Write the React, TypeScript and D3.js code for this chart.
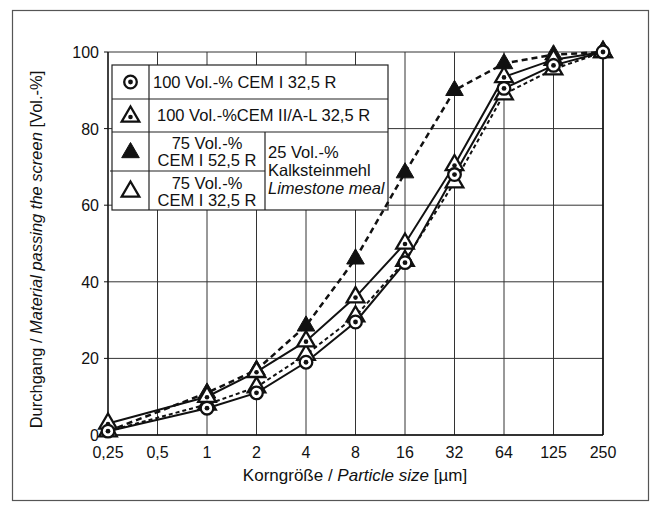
import React from "react";
import * as d3 from "d3";

// Sieve sizes along the x axis (equally spaced, labelled in µm)
const sizeLabels = ["0,25", "0,5", "1", "2", "4", "8", "16", "32", "64", "125", "250"];
// Sizes at which measurements were taken
const sampleSizes = ["0,25", "1", "2", "4", "8", "16", "32", "64", "125", "250"];

// Cumulative passing [Vol.-%] for each binder
const cemI325 = [1, 7, 11, 19, 29.5, 45, 68, 90.5, 96.5, 100];
const cemII = [3, 10, 16.5, 24.5, 36, 50, 70.5, 93.5, 98, 100];
const cemI525Lime = [1, 11, 17, 28.5, 46, 68.5, 90, 97, 99.3, 100];
const cemI325Lime = [1, 8, 12.5, 21, 31, 45.5, 66, 89, 95.5, 100];

const yTicks = [0, 20, 40, 60, 80, 100];

const W = 654;
const H = 512;
const plot = { left: 108, right: 603, top: 52, bottom: 435 };
const FONT = "'Liberation Sans', Arial, Helvetica, sans-serif";

type MarkerKind = "circleDot" | "triDot" | "triFilled" | "triOpen";

const series: { name: string; values: number[]; marker: MarkerKind; dash: string | null; width: number }[] = [
  { name: "100 Vol.-% CEM I 32,5 R", values: cemI325, marker: "circleDot", dash: null, width: 2 },
  { name: "100 Vol.-% CEM II/A-L 32,5 R", values: cemII, marker: "triDot", dash: null, width: 2 },
  { name: "75 Vol.-% CEM I 52,5 R", values: cemI525Lime, marker: "triFilled", dash: "6,4", width: 2.5 },
  { name: "75 Vol.-% CEM I 32,5 R", values: cemI325Lime, marker: "triOpen", dash: "4,3", width: 2 },
];

const triPath = "M0,-10L8.8,5.2L-8.8,5.2Z";

function Marker({ kind, x, y }: { kind: MarkerKind; x: number; y: number }) {
  const t = `translate(${x},${y})`;
  if (kind === "circleDot") {
    return (
      <g transform={t}>
        <circle r={6.3} fill="#fff" stroke="#111" strokeWidth={2.3} />
        <circle r={2.4} fill="#111" />
      </g>
    );
  }
  if (kind === "triDot") {
    return (
      <g transform={t}>
        <path d={triPath} fill="#fff" stroke="#111" strokeWidth={2.3} />
        <circle cy={0.5} r={2.3} fill="#111" />
      </g>
    );
  }
  if (kind === "triFilled") {
    return (
      <g transform={t}>
        <path d={triPath} fill="#111" stroke="#111" strokeWidth={1} />
      </g>
    );
  }
  return (
    <g transform={t}>
      <path d={triPath} fill="#fff" stroke="#111" strokeWidth={2.3} />
    </g>
  );
}

export default function App() {
  const x = d3.scalePoint<string>().domain(sizeLabels).range([plot.left, plot.right]);
  const y = d3.scaleLinear().domain([0, 100]).range([plot.bottom, plot.top]);

  const line = d3
    .line<number>()
    .x((_, i) => x(sampleSizes[i]) as number)
    .y((d) => y(d));

  // Legend table geometry
  const lg = { x0: 112, x1: 149, x2: 265, x3: 388, y0: 65, y1: 99, y2: 132, y3: 171, y4: 210 };

  return (
    <svg width={W} height={H} style={{ display: "block", position: "absolute", left: 0, top: 0 }}>
      <rect x={0} y={0} width={W} height={H} fill="#fff" />
      {/* outer frame */}
      <rect x={12.5} y={10.5} width={636} height={490} fill="none" stroke="#555" strokeWidth={1.2} />

      {/* grid */}
      {sizeLabels.map((s) => (
        <line key={"vx" + s} x1={x(s)} x2={x(s)} y1={plot.top} y2={plot.bottom} stroke="#333" strokeWidth={1} />
      ))}
      {yTicks.map((t) => (
        <line key={"hy" + t} x1={plot.left} x2={plot.right} y1={y(t)} y2={y(t)} stroke="#333" strokeWidth={1} />
      ))}
      {/* axis frame */}
      <line x1={plot.left} x2={plot.left} y1={plot.top} y2={plot.bottom} stroke="#111" strokeWidth={1.3} />
      <line x1={plot.left} x2={plot.right} y1={plot.bottom} y2={plot.bottom} stroke="#111" strokeWidth={1.6} />
      <line x1={plot.right} x2={plot.right} y1={plot.top} y2={plot.bottom} stroke="#111" strokeWidth={1.6} />
      {yTicks.map((t) => (
        <line key={"tk" + t} x1={plot.left - 4} x2={plot.left} y1={y(t)} y2={y(t)} stroke="#111" strokeWidth={1} />
      ))}

      {/* tick labels */}
      <g fontFamily={FONT} fontSize={16} fill="#111">
        {yTicks.map((t) => (
          <text key={"yl" + t} x={plot.left - 9} y={y(t) + 6} textAnchor="end">
            {t}
          </text>
        ))}
        {sizeLabels.map((s) => (
          <text key={"xl" + s} x={x(s)} y={plot.bottom + 23} textAnchor="middle">
            {s}
          </text>
        ))}
      </g>

      {/* axis titles */}
      <text x={355} y={plot.bottom + 46} textAnchor="middle" fontFamily={FONT} fontSize={17} fill="#111">
        Korngröße / <tspan fontStyle="italic">Particle size</tspan> [µm]
      </text>
      <text
        transform={`translate(42,${(plot.top + plot.bottom) / 2 + 6}) rotate(-90)`}
        textAnchor="middle"
        fontFamily={FONT}
        fontSize={16.5}
        fill="#111"
      >
        Durchgang / <tspan fontStyle="italic">Material passing the screen</tspan> [Vol.-%]
      </text>

      {/* legend table */}
      <g stroke="#222" strokeWidth={1.2}>
        <rect x={lg.x0} y={lg.y0} width={lg.x3 - lg.x0} height={lg.y4 - lg.y0} fill="#fff" />
        <line x1={lg.x1} x2={lg.x1} y1={lg.y0} y2={lg.y4} />
        <line x1={lg.x2} x2={lg.x2} y1={lg.y2} y2={lg.y4} />
        <line x1={lg.x0} x2={lg.x3} y1={lg.y1} y2={lg.y1} />
        <line x1={lg.x0} x2={lg.x3} y1={lg.y2} y2={lg.y2} />
        <line x1={lg.x0 - 2} x2={lg.x2} y1={lg.y3} y2={lg.y3} />
      </g>
      <Marker kind="circleDot" x={(lg.x0 + lg.x1) / 2} y={(lg.y0 + lg.y1) / 2} />
      <Marker kind="triDot" x={(lg.x0 + lg.x1) / 2} y={(lg.y1 + lg.y2) / 2 + 1} />
      <Marker kind="triFilled" x={(lg.x0 + lg.x1) / 2} y={(lg.y2 + lg.y3) / 2 + 1} />
      <Marker kind="triOpen" x={(lg.x0 + lg.x1) / 2} y={(lg.y3 + lg.y4) / 2 + 1} />
      <g fontFamily={FONT} fontSize={16.5} fill="#111">
        <text x={153} y={88}>100 Vol.-% CEM I 32,5 R</text>
        <text x={157} y={121}>100 Vol.-%CEM II/A-L 32,5 R</text>
        <text x={207} y={149} textAnchor="middle">75 Vol.-%</text>
        <text x={207} y={166} textAnchor="middle">CEM I 52,5 R</text>
        <text x={207} y={189} textAnchor="middle">75 Vol.-%</text>
        <text x={207} y={206} textAnchor="middle">CEM I 32,5 R</text>
        <text x={268} y={158}>25 Vol.-%</text>
        <text x={268} y={176}>Kalksteinmehl</text>
        <text x={268} y={194} fontStyle="italic">Limestone meal</text>
      </g>

      {/* curves */}
      {series.map((s) => (
        <path
          key={"ln" + s.name}
          d={line(s.values) || ""}
          fill="none"
          stroke="#111"
          strokeWidth={s.width}
          strokeDasharray={s.dash || undefined}
        />
      ))}
      {/* markers, open symbols drawn over the filled ones */}
      {[series[2], series[3], series[1], series[0]].map((s) =>
        s.values.map((v, i) => (
          <Marker key={s.name + i} kind={s.marker} x={x(sampleSizes[i]) as number} y={y(v)} />
        ))
      )}
    </svg>
  );
}
